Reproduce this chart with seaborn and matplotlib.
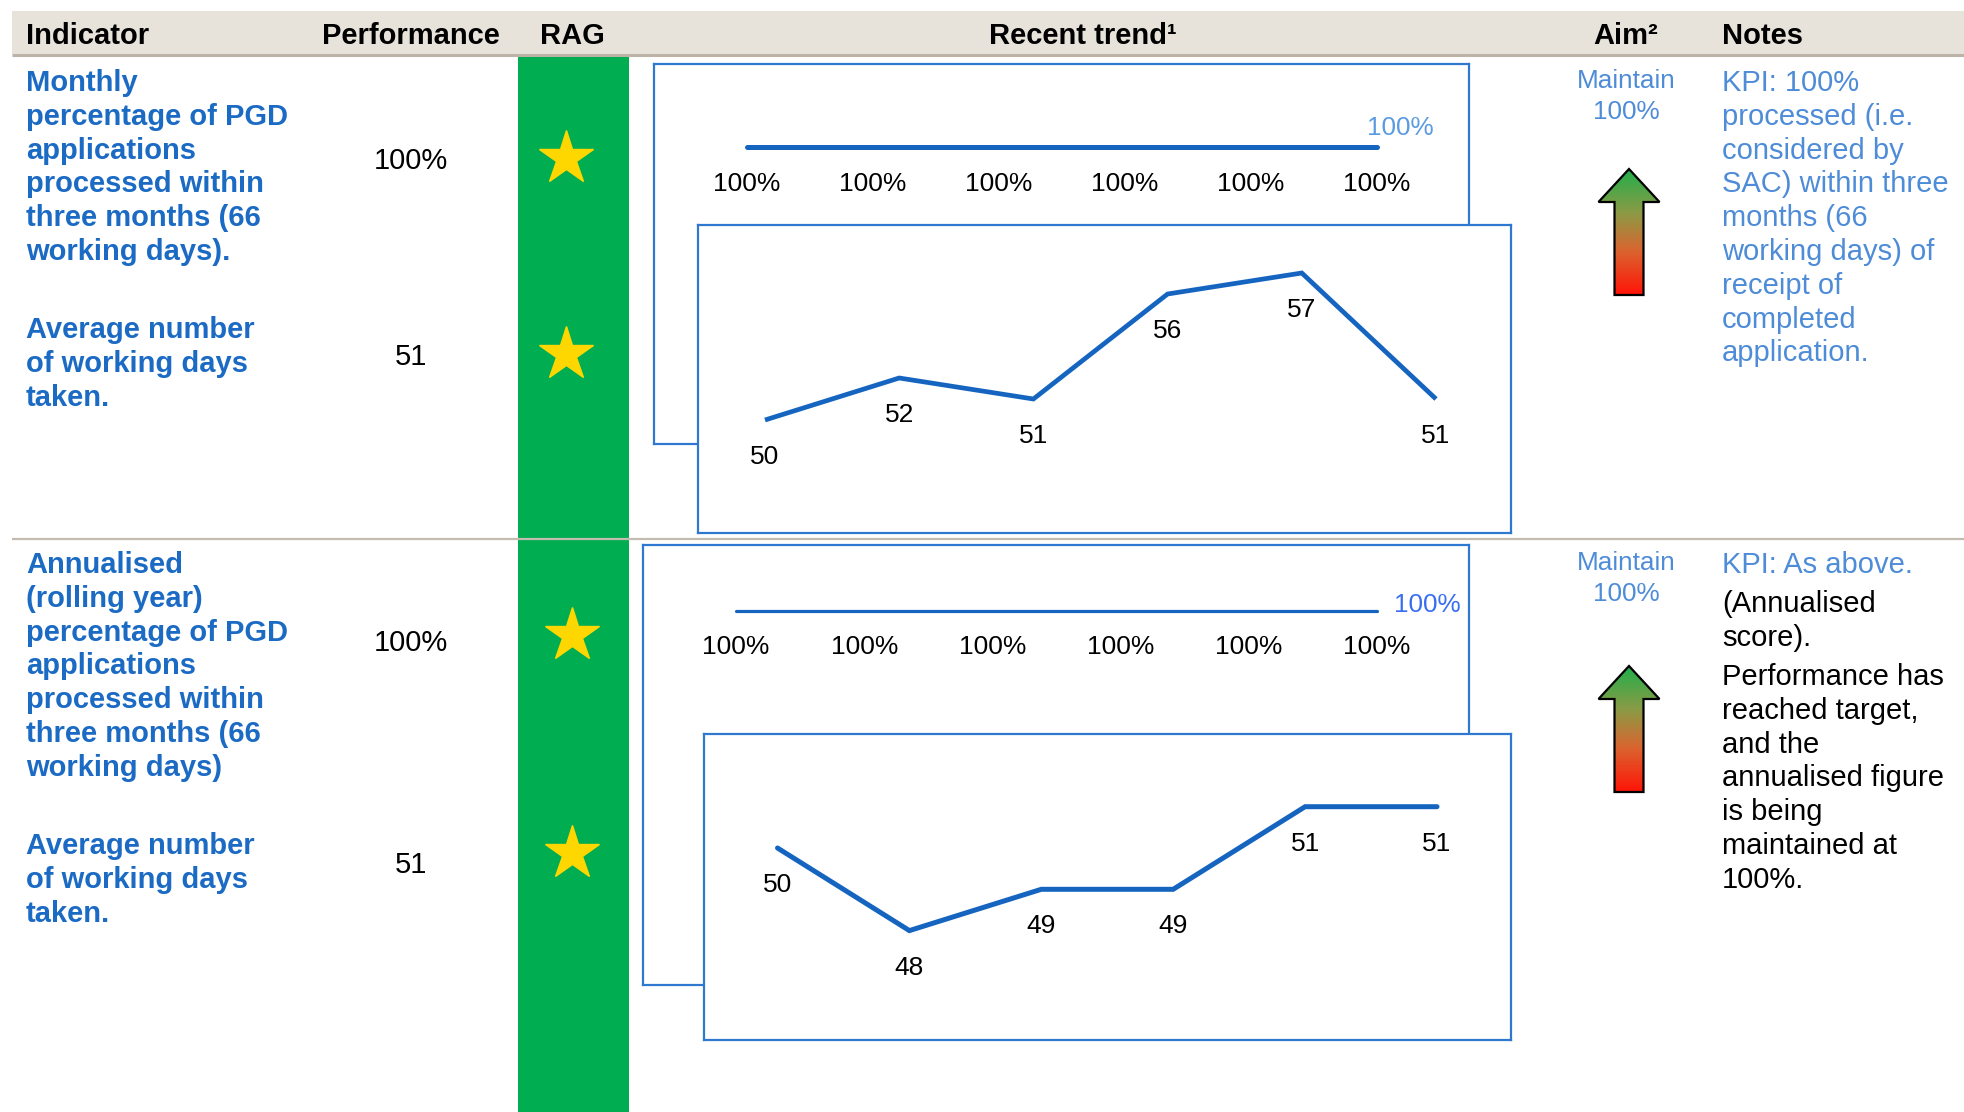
import numpy as np
import pandas as pd
import matplotlib
matplotlib.use("Agg")
import matplotlib.pyplot as plt
from matplotlib.patches import Rectangle, Polygon
from matplotlib.colors import LinearSegmentedColormap
import seaborn as sns

sns.set_style("white")
plt.rcParams['font.family'] = ['Liberation Sans', 'DejaVu Sans']

# ---------------- data ----------------
headers = ["Indicator", "Performance", "RAG", "Recent trend\u00b9", "Aim\u00b2", "Notes"]
periods = [1, 2, 3, 4, 5, 6]
monthly_pct = [100, 100, 100, 100, 100, 100]
monthly_days = [50, 52, 51, 56, 57, 51]
annual_pct = [100, 100, 100, 100, 100, 100]
annual_days = [50, 48, 49, 49, 51, 51]
performance = ["100%", "51", "100%", "51"]
rag_status = ["green", "green", "green", "green"]

ind_row1_a = ["Monthly", "percentage of PGD", "applications", "processed within",
              "three months (66", "working days)."]
ind_row1_b = ["Average number", "of working days", "taken."]
ind_row2_a = ["Annualised", "(rolling year)", "percentage of PGD", "applications",
              "processed within", "three months (66", "working days)"]
ind_row2_b = ["Average number", "of working days", "taken."]
aim_text = ["Maintain", "100%"]
notes_row1 = ["KPI: 100%", "processed (i.e.", "considered by", "SAC) within three",
              "months (66", "working days) of", "receipt of", "completed", "application."]
notes_row2_kpi = ["KPI: As above."]
notes_row2_a = ["(Annualised", "score)."]
notes_row2_b = ["Performance has", "reached target,", "and the", "annualised figure",
                "is being", "maintained at", "100%."]

# ---------------- styles ----------------
W, H = 1964, 1112
IND_BLUE = "#1B6AC4"
LIGHT_BLUE = "#4E8CD8"
LINE_BLUE = "#1565C0"
BORDER = "#2F78CF"
GREEN = "#00AD50"
STAR = "#FFD700"
FS = 21
LFS = 19
DY = 3  # visual-centre correction for text

fig = plt.figure(figsize=(W / 100, H / 100), dpi=100)
bg = fig.add_axes([0, 0, 1, 1])
bg.set_xlim(0, W)
bg.set_ylim(H, 0)
bg.axis('off')

# header band
bg.add_patch(Rectangle((12, 11), W - 12, 43, facecolor="#E7E3DB", edgecolor="none", zorder=1))
bg.plot([12, W], [55, 55], color="#BDB4A7", lw=2.2, zorder=3, solid_capstyle='butt')
# RAG column
bg.add_patch(Rectangle((518, 56), 111, H - 56, facecolor=GREEN, edgecolor="none", zorder=1))
# row separator
bg.plot([12, W], [539, 539], color="#C4BCB0", lw=1.6, zorder=3, solid_capstyle='butt')

# header texts
hx = [26, 411, 572, 1083, 1626, 1722]
hha = ['left', 'center', 'center', 'center', 'center', 'left']
for t, x, ha in zip(headers, hx, hha):
    bg.text(x, 33 + DY, t, ha=ha, va='center', fontsize=FS, fontweight='bold', color='black', zorder=4)


def lines(x, y0, step, texts, **kw):
    for i, t in enumerate(texts):
        bg.text(x, y0 + DY + i * step, t, va='center', zorder=4, **kw)


STEP = 33.8
lines(26, 80, STEP, ind_row1_a, ha='left', fontsize=FS, fontweight='bold', color=IND_BLUE)
lines(26, 327, STEP, ind_row1_b, ha='left', fontsize=FS, fontweight='bold', color=IND_BLUE)
lines(26, 562, STEP, ind_row2_a, ha='left', fontsize=FS, fontweight='bold', color=IND_BLUE)
lines(26, 843, STEP, ind_row2_b, ha='left', fontsize=FS, fontweight='bold', color=IND_BLUE)

# performance values
perf_y = [158, 354, 640, 862]
for t, y in zip(performance, perf_y):
    bg.text(411, y + DY, t, ha='center', va='center', fontsize=FS, color='black', zorder=4)

# RAG stars
star_x = [566, 566, 572, 572]
star_y = [158, 354, 635, 853]
for st, x, y in zip(rag_status, star_x, star_y):
    bg.plot([x], [y], marker='*', ms=41, color=STAR, mec=STAR, ls='none', zorder=4)

# aim texts
lines(1626, 78, 31, aim_text, ha='center', fontsize=18.8, color=LIGHT_BLUE)
lines(1626, 560, 31, aim_text, ha='center', fontsize=18.8, color=LIGHT_BLUE)

# notes
lines(1722, 80, STEP, notes_row1, ha='left', fontsize=FS, color=LIGHT_BLUE)
lines(1722, 562, STEP, notes_row2_kpi, ha='left', fontsize=FS, color=LIGHT_BLUE)
lines(1722, 601, STEP, notes_row2_a, ha='left', fontsize=FS, color='black')
lines(1722, 674, STEP, notes_row2_b, ha='left', fontsize=FS, color='black')

# gradient arrows
cmap = LinearSegmentedColormap.from_list(
    "arrow", [(0.0, "#22AE4B"), (0.35, "#8C9A45"), (0.65, "#DA6430"), (1.0, "#FF1408")])
grad = np.linspace(0, 1, 256).reshape(-1, 1)


def arrow(cx, top, bottom):
    head_h = 33
    hw, sw = 30.5, 14.5
    verts = [(cx, top), (cx + hw, top + head_h), (cx + sw, top + head_h), (cx + sw, bottom),
             (cx - sw, bottom), (cx - sw, top + head_h), (cx - hw, top + head_h)]
    im = bg.imshow(grad, cmap=cmap, aspect='auto', origin='upper',
                   extent=(cx - hw, cx + hw, bottom, top), zorder=3, interpolation='bilinear')
    poly = Polygon(verts, closed=True, transform=bg.transData, facecolor='none')
    im.set_clip_path(poly)
    bg.add_patch(Polygon(verts, closed=True, facecolor='none', edgecolor='black', lw=1.6, zorder=4,
                         joinstyle='miter'))


arrow(1629, 169, 295)
arrow(1629, 666, 792)
bg.set_xlim(0, W)
bg.set_ylim(H, 0)


# ---------------- trend panels ----------------
def panel(box, xfirst, step, vref, yref, ppu, values, labels, lw, label_off,
          end_label=None, end_color=None, end_off=(0, 0), cap='round'):
    x0, y0, x1, y1 = box
    ax = fig.add_axes([x0 / W, 1 - y1 / H, (x1 - x0) / W, (y1 - y0) / H])
    df = pd.DataFrame({"period": list(range(len(values))), "value": values})
    sns.lineplot(data=df, x="period", y="value", ax=ax, color=LINE_BLUE, linewidth=lw,
                 solid_capstyle=cap, solid_joinstyle='miter')
    ax.set_xlim((x0 - xfirst) / step, (x1 - xfirst) / step)
    ax.set_ylim(vref - (y1 - yref) / ppu, vref + (yref - y0) / ppu)
    ax.set_xticks([])
    ax.set_yticks([])
    ax.set_xlabel('')
    ax.set_ylabel('')
    ax.set_facecolor('white')
    for s in ax.spines.values():
        s.set_visible(True)
        s.set_color(BORDER)
        s.set_linewidth(1.6)
    for i, (v, t) in enumerate(zip(values, labels)):
        ax.annotate(t, (i, v), xytext=(0, -label_off), textcoords='offset pixels',
                    ha='center', va='center', fontsize=LFS, color='black')
    if end_label is not None:
        n = len(values) - 1
        ax.annotate(end_label, (n, values[n]), xytext=end_off, textcoords='offset pixels',
                    ha='left', va='center', fontsize=18.8, color=end_color)
    return ax


# row 1 back (percentage) then front (days)
panel((654, 64, 1469, 444), 747, 126, 100, 147, 1.0, monthly_pct,
      [f"{v}%" for v in monthly_pct], 3.6, 37,
      end_label=f"{monthly_pct[-1]}%", end_color="#5B9BE0", end_off=(-10, 19))
panel((698, 225, 1511, 533), 765, 134.2, 50, 420, 21.0, monthly_days,
      [str(v) for v in monthly_days], 3.4, 37, cap='butt')

# row 2 back then front
panel((643, 545, 1469, 985), 736, 128.2, 100, 611, 1.0, annual_pct,
      [f"{v}%" for v in annual_pct], 2.3, 36,
      end_label=f"{annual_pct[-1]}%", end_color="#3A6EF2", end_off=(17, 6))
panel((704, 734, 1511, 1040), 777.5, 131.9, 50, 848, 41.3, annual_days,
      [str(v) for v in annual_days], 3.6, 37, cap='round')

fig.savefig("out.png", dpi=100)
